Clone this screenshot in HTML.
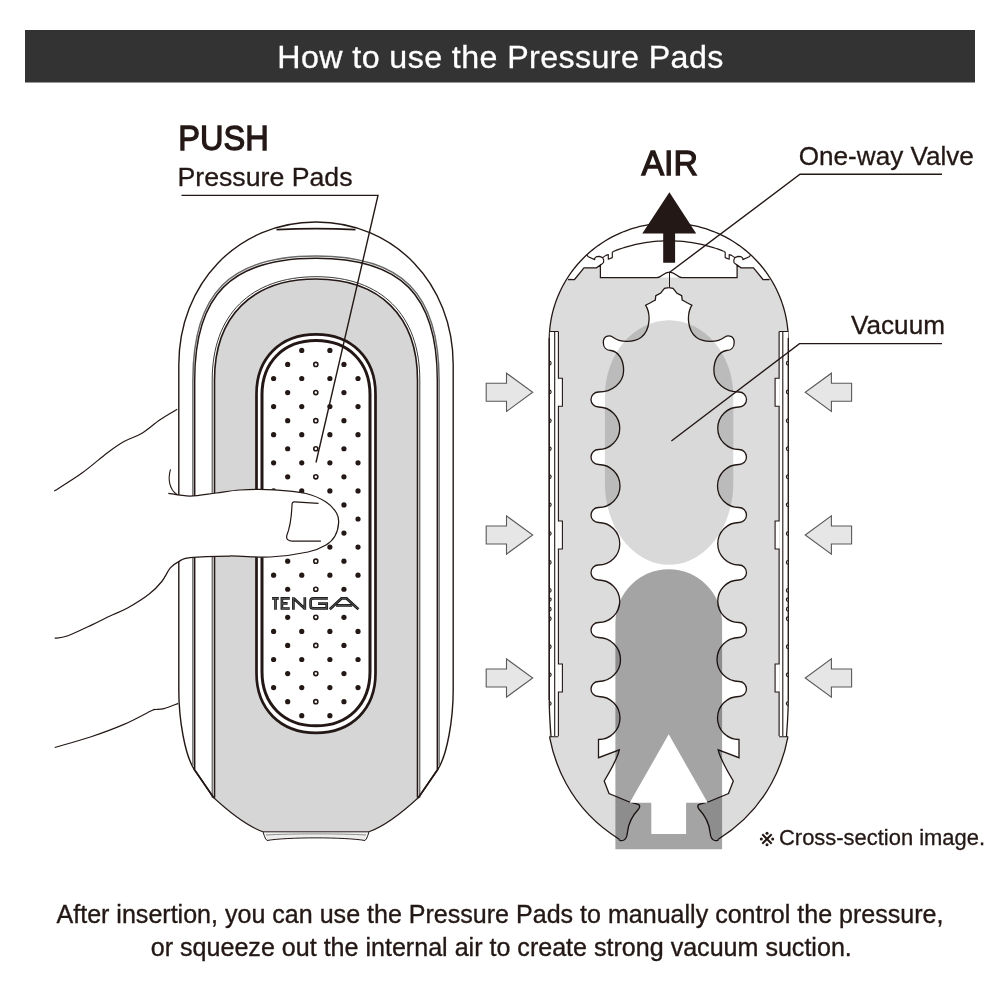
<!DOCTYPE html>
<html><head><meta charset="utf-8"><style>
html,body{margin:0;padding:0;background:#fff;}
body{width:1000px;height:1000px;overflow:hidden;position:relative;}
svg{position:absolute;left:0;top:0;}
text{font-family:"Liberation Sans",sans-serif;}
</style></head><body>
<svg width="1000" height="1000" viewBox="0 0 1000 1000">
<rect x="0" y="0" width="1000" height="1000" fill="#fff"/>
<rect x="25" y="30" width="950" height="52.5" fill="#333333"/>
<text x="500.3" y="67.9" fill="#fff" stroke="#fff" stroke-width="0.3" font-size="32.2" text-anchor="middle" textLength="446" lengthAdjust="spacing">How to use the Pressure Pads</text>
<text x="178.3" y="150.2" fill="#231815" stroke="#231815" stroke-width="1.3" font-size="35.6" textLength="90.5" lengthAdjust="spacingAndGlyphs">PUSH</text>
<text x="177.5" y="186.3" fill="#231815" stroke="#231815" stroke-width="0.3" font-size="26.5" textLength="175" lengthAdjust="spacingAndGlyphs">Pressure Pads</text>
<path d="M178.8 690 L178.8 365 C178.8 283.49 237.8 222 316 222 C394.2 222 453.2 283.49 453.2 365 L453.2 690 C453.2 720 447 755 438 769 L418.5 797.5 L213.5 797.5 L194 769 C185 755 178.8 720 178.8 690 Z" fill="#fff" stroke="#231815" stroke-width="1.4"/>
<path d="M214.5 797.5 L214.5 380 C214.5 316.37 252.06 279 316 279 C379.94 279 417.5 316.37 417.5 380 L417.5 797.5 C405 810 385 826 369 831.8 L263 831.8 C247 826 227 810 214.5 797.5 Z" fill="#d6d6d6" stroke="none"/>
<path d="M214.5 797.5 L214.5 380 C214.5 316.37 252.06 279 316 279 C379.94 279 417.5 316.37 417.5 380 L417.5 797.5" fill="none" stroke="#231815" stroke-width="1.6"/>
<path d="M212.2 797.5 L212.2 380 C212.2 314.92 250.61 276.7 316 276.7 C381.39 276.7 419.8 314.92 419.8 380 L419.8 797.5" fill="none" stroke="#3a3a3a" stroke-width="1.0"/>
<path d="M213.5 797.5 C227 810 247 826 263 831.8 M369 831.8 C385 826 405 810 418.5 797.5" fill="none" stroke="#231815" stroke-width="1.1"/>
<path d="M263 831.8 L369 831.8 C368 835 367 839 365 840.5 C345 837 287 837 267 840.5 C265 839 264 835 263 831.8 Z" fill="#eee" stroke="#231815" stroke-width="1"/>
<path d="M266 835 C290 833.5 342 833.5 366 835" fill="none" stroke="#777" stroke-width="0.8"/>
<path d="M194.7 769 L194.7 380 C194.7 294.74 231.09 258.2 316 258.2 C400.91 258.2 437.3 294.74 437.3 380 L437.3 769" fill="none" stroke="#231815" stroke-width="1.45"/>
<path d="M192.9 766 L192.9 380 C192.9 293.2 229.83 256 316 256 C402.17 256 439.1 293.2 439.1 380 L439.1 766" fill="none" stroke="#6a6a6a" stroke-width="1.5"/>
<path d="M194 769 L213.5 797.5 M438 769 L418.5 797.5" fill="none" stroke="#231815" stroke-width="1.6"/>
<path d="M276.5 229.6 Q316 227.6 355.5 229.6" fill="none" stroke="#231815" stroke-width="1.9"/>
<path d="M256.5 673.3 L256.5 393.9 C256.5 358.2 280.3 334.4 316 334.4 C351.7 334.4 375.5 358.2 375.5 393.9 L375.5 673.3 C375.5 709 351.7 732.8 316 732.8 C280.3 732.8 256.5 709 256.5 673.3 Z" fill="#fff" stroke="#231815" stroke-width="2.7"/>
<path d="M262 671.8 L262 394.6 C262 362.2 283.6 340.6 316 340.6 C348.4 340.6 370 362.2 370 394.6 L370 671.8 C370 704.2 348.4 725.8 316 725.8 C283.6 725.8 262 704.2 262 671.8 Z" fill="none" stroke="#231815" stroke-width="3"/>
<circle cx="301.74" cy="350.4" r="2.6" fill="#231815"/>
<circle cx="329.88" cy="350.4" r="2.6" fill="#231815"/>
<circle cx="287.67" cy="364.45" r="2.6" fill="#231815"/>
<circle cx="315.81" cy="364.45" r="2.05" fill="none" stroke="#231815" stroke-width="1.6"/>
<circle cx="343.95" cy="364.45" r="2.6" fill="#231815"/>
<circle cx="273.6" cy="378.5" r="2.6" fill="#231815"/>
<circle cx="301.74" cy="378.5" r="2.6" fill="#231815"/>
<circle cx="329.88" cy="378.5" r="2.6" fill="#231815"/>
<circle cx="358.02" cy="378.5" r="2.6" fill="#231815"/>
<circle cx="287.67" cy="392.55" r="2.6" fill="#231815"/>
<circle cx="315.81" cy="392.55" r="2.05" fill="none" stroke="#231815" stroke-width="1.6"/>
<circle cx="343.95" cy="392.55" r="2.6" fill="#231815"/>
<circle cx="273.6" cy="406.6" r="2.6" fill="#231815"/>
<circle cx="301.74" cy="406.6" r="2.6" fill="#231815"/>
<circle cx="329.88" cy="406.6" r="2.6" fill="#231815"/>
<circle cx="358.02" cy="406.6" r="2.6" fill="#231815"/>
<circle cx="287.67" cy="420.65" r="2.6" fill="#231815"/>
<circle cx="315.81" cy="420.65" r="2.05" fill="none" stroke="#231815" stroke-width="1.6"/>
<circle cx="343.95" cy="420.65" r="2.6" fill="#231815"/>
<circle cx="273.6" cy="434.7" r="2.6" fill="#231815"/>
<circle cx="301.74" cy="434.7" r="2.6" fill="#231815"/>
<circle cx="329.88" cy="434.7" r="2.6" fill="#231815"/>
<circle cx="358.02" cy="434.7" r="2.6" fill="#231815"/>
<circle cx="287.67" cy="448.75" r="2.6" fill="#231815"/>
<circle cx="315.81" cy="448.75" r="2.05" fill="none" stroke="#231815" stroke-width="1.6"/>
<circle cx="343.95" cy="448.75" r="2.6" fill="#231815"/>
<circle cx="273.6" cy="462.8" r="2.6" fill="#231815"/>
<circle cx="301.74" cy="462.8" r="2.6" fill="#231815"/>
<circle cx="329.88" cy="462.8" r="2.6" fill="#231815"/>
<circle cx="358.02" cy="462.8" r="2.6" fill="#231815"/>
<circle cx="287.67" cy="476.85" r="2.6" fill="#231815"/>
<circle cx="315.81" cy="476.85" r="2.05" fill="none" stroke="#231815" stroke-width="1.6"/>
<circle cx="343.95" cy="476.85" r="2.6" fill="#231815"/>
<circle cx="273.6" cy="490.9" r="2.6" fill="#231815"/>
<circle cx="301.74" cy="490.9" r="2.6" fill="#231815"/>
<circle cx="329.88" cy="490.9" r="2.6" fill="#231815"/>
<circle cx="358.02" cy="490.9" r="2.6" fill="#231815"/>
<circle cx="287.67" cy="504.95" r="2.6" fill="#231815"/>
<circle cx="315.81" cy="504.95" r="2.05" fill="none" stroke="#231815" stroke-width="1.6"/>
<circle cx="343.95" cy="504.95" r="2.6" fill="#231815"/>
<circle cx="273.6" cy="519" r="2.6" fill="#231815"/>
<circle cx="301.74" cy="519" r="2.6" fill="#231815"/>
<circle cx="329.88" cy="519" r="2.6" fill="#231815"/>
<circle cx="358.02" cy="519" r="2.6" fill="#231815"/>
<circle cx="287.67" cy="533.05" r="2.6" fill="#231815"/>
<circle cx="315.81" cy="533.05" r="2.05" fill="none" stroke="#231815" stroke-width="1.6"/>
<circle cx="343.95" cy="533.05" r="2.6" fill="#231815"/>
<circle cx="273.6" cy="547.1" r="2.6" fill="#231815"/>
<circle cx="301.74" cy="547.1" r="2.6" fill="#231815"/>
<circle cx="329.88" cy="547.1" r="2.6" fill="#231815"/>
<circle cx="358.02" cy="547.1" r="2.6" fill="#231815"/>
<circle cx="287.67" cy="561.15" r="2.6" fill="#231815"/>
<circle cx="315.81" cy="561.15" r="2.05" fill="none" stroke="#231815" stroke-width="1.6"/>
<circle cx="343.95" cy="561.15" r="2.6" fill="#231815"/>
<circle cx="273.6" cy="575.2" r="2.6" fill="#231815"/>
<circle cx="301.74" cy="575.2" r="2.6" fill="#231815"/>
<circle cx="329.88" cy="575.2" r="2.6" fill="#231815"/>
<circle cx="358.02" cy="575.2" r="2.6" fill="#231815"/>
<circle cx="287.67" cy="589.25" r="2.6" fill="#231815"/>
<circle cx="315.81" cy="589.25" r="2.05" fill="none" stroke="#231815" stroke-width="1.6"/>
<circle cx="343.95" cy="589.25" r="2.6" fill="#231815"/>
<circle cx="287.67" cy="617.35" r="2.6" fill="#231815"/>
<circle cx="315.81" cy="617.35" r="2.05" fill="none" stroke="#231815" stroke-width="1.6"/>
<circle cx="343.95" cy="617.35" r="2.6" fill="#231815"/>
<circle cx="273.6" cy="631.4" r="2.6" fill="#231815"/>
<circle cx="301.74" cy="631.4" r="2.6" fill="#231815"/>
<circle cx="329.88" cy="631.4" r="2.6" fill="#231815"/>
<circle cx="358.02" cy="631.4" r="2.6" fill="#231815"/>
<circle cx="287.67" cy="645.45" r="2.6" fill="#231815"/>
<circle cx="315.81" cy="645.45" r="2.05" fill="none" stroke="#231815" stroke-width="1.6"/>
<circle cx="343.95" cy="645.45" r="2.6" fill="#231815"/>
<circle cx="273.6" cy="659.5" r="2.6" fill="#231815"/>
<circle cx="301.74" cy="659.5" r="2.6" fill="#231815"/>
<circle cx="329.88" cy="659.5" r="2.6" fill="#231815"/>
<circle cx="358.02" cy="659.5" r="2.6" fill="#231815"/>
<circle cx="287.67" cy="673.55" r="2.6" fill="#231815"/>
<circle cx="315.81" cy="673.55" r="2.05" fill="none" stroke="#231815" stroke-width="1.6"/>
<circle cx="343.95" cy="673.55" r="2.6" fill="#231815"/>
<circle cx="273.6" cy="687.6" r="2.6" fill="#231815"/>
<circle cx="301.74" cy="687.6" r="2.6" fill="#231815"/>
<circle cx="329.88" cy="687.6" r="2.6" fill="#231815"/>
<circle cx="358.02" cy="687.6" r="2.6" fill="#231815"/>
<circle cx="287.67" cy="701.65" r="2.6" fill="#231815"/>
<circle cx="315.81" cy="701.65" r="2.05" fill="none" stroke="#231815" stroke-width="1.6"/>
<circle cx="343.95" cy="701.65" r="2.6" fill="#231815"/>
<circle cx="301.74" cy="715.7" r="2.6" fill="#231815"/>
<circle cx="329.88" cy="715.7" r="2.6" fill="#231815"/>
<path d="M272 598.4 L278.8 598.4 M275.5 598.4 L275.5 609.7" fill="none" stroke="#1a1a1a" stroke-width="2.7" stroke-linejoin="miter" stroke-miterlimit="3"/>
<path d="M289.8 598.4 L281.9 598.4 L281.9 608.5 L289.8 608.5 M281.9 603.4 L287.6 603.4" fill="none" stroke="#1a1a1a" stroke-width="2.7" stroke-linejoin="miter" stroke-miterlimit="3"/>
<path d="M293.4 609.7 L293.4 597.2 M293.6 598.2 L304.6 608.6 M304.8 609.7 L304.8 597.2" fill="none" stroke="#1a1a1a" stroke-width="2.7" stroke-linejoin="miter" stroke-miterlimit="3"/>
<path d="M327.9 598.4 L313.3 598.4 Q310.6 598.4 310.6 601 L310.6 605.9 Q310.6 608.4 313.3 608.4 L326.7 608.4 L326.7 603.6 L318 603.6" fill="none" stroke="#1a1a1a" stroke-width="2.7" stroke-linejoin="miter" stroke-miterlimit="3"/>
<path d="M329.8 609.2 L341.5 598.4 L346.6 598.4 L358.4 609.2 M336 605.3 L352.2 605.3" fill="none" stroke="#1a1a1a" stroke-width="2.7" stroke-linejoin="miter" stroke-miterlimit="3"/>
<path d="M272 598.4 L278.8 598.4 M275.5 598.4 L275.5 609.7" fill="none" stroke="#8a8a8a" stroke-width="0.55" stroke-linejoin="miter" stroke-miterlimit="3"/>
<path d="M289.8 598.4 L281.9 598.4 L281.9 608.5 L289.8 608.5 M281.9 603.4 L287.6 603.4" fill="none" stroke="#8a8a8a" stroke-width="0.55" stroke-linejoin="miter" stroke-miterlimit="3"/>
<path d="M293.4 609.7 L293.4 597.2 M293.6 598.2 L304.6 608.6 M304.8 609.7 L304.8 597.2" fill="none" stroke="#8a8a8a" stroke-width="0.55" stroke-linejoin="miter" stroke-miterlimit="3"/>
<path d="M327.9 598.4 L313.3 598.4 Q310.6 598.4 310.6 601 L310.6 605.9 Q310.6 608.4 313.3 608.4 L326.7 608.4 L326.7 603.6 L318 603.6" fill="none" stroke="#8a8a8a" stroke-width="0.55" stroke-linejoin="miter" stroke-miterlimit="3"/>
<path d="M329.8 609.2 L341.5 598.4 L346.6 598.4 L358.4 609.2 M336 605.3 L352.2 605.3" fill="none" stroke="#8a8a8a" stroke-width="0.55" stroke-linejoin="miter" stroke-miterlimit="3"/>
<path d="M168.3 493.3 C171.92 493.75 182.05 496.05 190 496 C197.95 495.95 207.67 494 216 493 C224.33 492 230.33 490.53 240 490 C249.67 489.47 263 489.22 274 489.8 C285 490.38 297.33 491.47 306 493.5 C314.67 495.53 320.92 498.75 326 502 C331.08 505.25 334.4 509.5 336.5 513 C338.6 516.5 338.85 519.17 338.6 523 C338.35 526.83 337.1 532.33 335 536 C332.9 539.67 330.5 542.33 326 545 C321.5 547.67 317.33 550 308 552 C298.67 554 283 556.33 270 557 C257 557.67 243.33 555.9 230 556 C216.67 556.1 198.55 556.67 190 557.6 C181.45 558.53 181.98 559.88 178.7 561.6 C175.42 563.32 173.12 564.58 170.3 567.9 C167.48 571.22 165.32 577.13 161.8 581.5 C158.28 585.87 154.83 589.72 149.2 594.1 C143.57 598.48 134.53 604.15 128 607.8 C121.47 611.45 115.92 613.2 110 616 C104.08 618.8 99.62 621.27 92.5 624.6 C85.38 627.93 73.6 633.73 67.3 636 C61 638.27 56.8 637.83 54.7 638.2 L168.3 493.3 Z" fill="#fff" stroke="none"/>
<path d="M168.3 493.3 C171.92 493.75 182.05 496.05 190 496 C197.95 495.95 207.67 494 216 493 C224.33 492 230.33 490.53 240 490 C249.67 489.47 263 489.22 274 489.8 C285 490.38 297.33 491.47 306 493.5 C314.67 495.53 320.92 498.75 326 502 C331.08 505.25 334.4 509.5 336.5 513 C338.6 516.5 338.85 519.17 338.6 523 C338.35 526.83 337.1 532.33 335 536 C332.9 539.67 330.5 542.33 326 545 C321.5 547.67 317.33 550 308 552 C298.67 554 283 556.33 270 557 C257 557.67 243.33 555.9 230 556 C216.67 556.1 198.55 556.67 190 557.6 C181.45 558.53 181.98 559.88 178.7 561.6 C175.42 563.32 173.12 564.58 170.3 567.9 C167.48 571.22 165.32 577.13 161.8 581.5 C158.28 585.87 154.83 589.72 149.2 594.1 C143.57 598.48 134.53 604.15 128 607.8 C121.47 611.45 115.92 613.2 110 616 C104.08 618.8 99.62 621.27 92.5 624.6 C85.38 627.93 73.6 633.73 67.3 636 C61 638.27 56.8 637.83 54.7 638.2" fill="none" stroke="#231815" stroke-width="1.25"/>
<path d="M170.5 469.3 C168 478 168.5 489 177.3 494.8" fill="none" stroke="#231815" stroke-width="1.1"/>
<path d="M318.5 503.4 L294.5 501.9 C292.6 501.8 292.1 503 292 505 C291.6 515 290.2 527 286.8 535.5 C286 539 288 541.2 292.5 541.2 L320.9 541.2" fill="none" stroke="#231815" stroke-width="1.2"/>
<path d="M54.25 491 C58.88 488 73.12 479.38 82 473 C90.88 466.62 100.5 457.95 107.5 452.7 C114.5 447.45 118.25 444.75 124 441.5 C129.75 438.25 136 436.82 142 433.2 C148 429.57 154.12 423.74 160 419.75 C165.88 415.76 174.38 411 177.25 409.25" fill="none" stroke="#231815" stroke-width="1.2"/>
<path d="M54.7 747.5 C60.65 745.75 78.85 740.85 90.4 737 C101.95 733.15 113.85 728.78 124 724.4 C134.15 720.02 146.13 713.18 151.3 710.7 C156.47 708.22 152.88 709.85 155 709.5 C157.12 709.15 160.13 709.62 164 708.6 C167.87 707.58 175.83 704.27 178.2 703.4" fill="none" stroke="#231815" stroke-width="1.2"/>
<path d="M486.2 383.3 L506.5 383.3 L506.5 373.2 L532.7 392.3 L506.5 411.4 L506.5 401.3 L486.2 401.3 Z" fill="#e6e6e6" stroke="#5a5a5a" stroke-width="1.1"/>
<path d="M851.6 383.3 L831.4 383.3 L831.4 373.2 L805.2 392.3 L831.4 411.4 L831.4 401.3 L851.6 401.3 Z" fill="#e6e6e6" stroke="#5a5a5a" stroke-width="1.1"/>
<path d="M486.2 526 L506.5 526 L506.5 515.9 L532.7 535 L506.5 554.1 L506.5 544 L486.2 544 Z" fill="#e6e6e6" stroke="#5a5a5a" stroke-width="1.1"/>
<path d="M851.6 526 L831.4 526 L831.4 515.9 L805.2 535 L831.4 554.1 L831.4 544 L851.6 544 Z" fill="#e6e6e6" stroke="#5a5a5a" stroke-width="1.1"/>
<path d="M486.2 669 L506.5 669 L506.5 658.9 L532.7 678 L506.5 697.1 L506.5 687 L486.2 687 Z" fill="#e6e6e6" stroke="#5a5a5a" stroke-width="1.1"/>
<path d="M851.6 669 L831.4 669 L831.4 658.9 L805.2 678 L831.4 697.1 L831.4 687 L851.6 687 Z" fill="#e6e6e6" stroke="#5a5a5a" stroke-width="1.1"/>
<path d="M549.25 736 L549.25 340 L550.81 321.14 L552.38 313.42 L553.94 307.55 L555.5 302.66 L557.06 298.39 L558.62 294.57 L560.19 291.1 L561.75 287.9 L563.31 284.93 L564.88 282.16 L566.44 279.55 L568 277.08 L574.5 279.5 L584 267.8 L596.5 267.8 L600.4 265 L600.4 277.6 L737.1 277.6 L737.1 265 L741 267.8 L753.5 267.8 L763 279.5 L769.5 277.08 L771.06 279.55 L772.62 282.16 L774.19 284.93 L775.75 287.9 L777.31 291.1 L778.88 294.57 L780.44 298.39 L782 302.66 L783.56 307.55 L785.12 313.42 L786.69 321.14 L788.25 340 L787.9 737.2 C784.3 756.2 771.4 806.5 718.3 839.2 L619.2 839.2 C566.1 806.5 553.2 756.2 549.6 737.2 L549.25 737.2 Z" fill="#dcdcdc" stroke="none"/>
<path d="M587.2 254.48 L587.2 254.48 L591.28 250.92 L595.36 247.67 L599.43 244.7 L603.51 241.97 L607.59 239.49 L611.67 237.21 L615.74 235.14 L619.82 233.26 L623.9 231.55 L627.98 230.02 L632.05 228.65 L636.13 227.44 L640.21 226.39 L644.28 225.48 L648.36 224.72 L652.44 224.09 L656.52 223.61 L660.6 223.27 L664.67 223.07 L668.75 223 L672.83 223.07 L676.9 223.27 L680.98 223.61 L685.06 224.09 L689.14 224.72 L693.22 225.48 L697.29 226.39 L701.37 227.44 L705.45 228.65 L709.52 230.02 L713.6 231.55 L717.68 233.26 L721.76 235.14 L725.84 237.21 L729.91 239.49 L733.99 241.97 L738.07 244.7 L742.14 247.67 L746.22 250.92 L750.3 254.48 L748.5 258 L733.9 255.76 L730.64 254.23 L727.38 252.8 L724.13 251.45 L720.87 250.19 L717.61 249.02 L714.36 247.94 L711.1 246.93 L707.84 246.01 L704.58 245.16 L701.33 244.4 L698.07 243.71 L694.81 243.09 L691.55 242.55 L688.29 242.08 L685.04 241.69 L681.78 241.37 L678.52 241.12 L675.26 240.94 L672.01 240.84 L668.75 240.8 L665.49 240.84 L662.24 240.94 L658.98 241.12 L655.72 241.37 L652.46 241.69 L649.21 242.08 L645.95 242.55 L642.69 243.09 L639.43 243.71 L636.17 244.4 L632.92 245.16 L629.66 246.01 L626.4 246.93 L623.14 247.94 L619.89 249.02 L616.63 250.19 L613.37 251.45 L610.12 252.8 L606.86 254.23 L603.6 255.76 L589 258 Z" fill="#fff" stroke="none"/>
<path d="M549.25 700 L549.25 340 L549.32 335.92 L549.54 331.84 L549.9 327.77 L550.41 323.72 L551.07 319.68 L551.86 315.67 L552.8 311.7 L553.88 307.75 L555.1 303.85 L556.46 299.98 L557.95 296.17 L559.58 292.41 L561.34 288.71 L563.24 285.07 L565.26 281.5 L567.41 278 L569.68 274.57 L572.07 271.23 L574.58 267.97 L577.21 264.79 L579.94 261.71 L582.79 258.72 L585.74 255.84 L588.79 253.05 L591.94 250.37 L595.18 247.8 L598.51 245.35 L601.93 243 L605.42 240.78 L609 238.68 L612.65 236.7 L616.36 234.84 L620.14 233.12 L623.98 231.52 L627.88 230.06 L631.82 228.73 L635.81 227.53 L639.84 226.48 L643.9 225.56 L648 224.78 L652.12 224.14 L656.26 223.64 L660.41 223.29 L664.58 223.07 L668.75 223 L672.92 223.07 L677.09 223.29 L681.24 223.64 L685.38 224.14 L689.5 224.78 L693.6 225.56 L697.66 226.48 L701.69 227.53 L705.68 228.73 L709.62 230.06 L713.52 231.52 L717.36 233.12 L721.14 234.84 L724.85 236.7 L728.5 238.68 L732.08 240.78 L735.57 243 L738.99 245.35 L742.32 247.8 L745.56 250.37 L748.71 253.05 L751.76 255.84 L754.71 258.72 L757.56 261.71 L760.29 264.79 L762.92 267.97 L765.43 271.23 L767.82 274.57 L770.09 278 L772.24 281.5 L774.26 285.07 L776.16 288.71 L777.92 292.41 L779.55 296.17 L781.04 299.98 L782.4 303.85 L783.62 307.75 L784.7 311.7 L785.64 315.67 L786.43 319.68 L787.09 323.72 L787.6 327.77 L787.96 331.84 L788.18 335.92 L788.25 340 L788.25 700" fill="none" stroke="#231815" stroke-width="1.3"/>
<path d="M613.9 251.24 L616.64 250.19 L619.38 249.2 L622.13 248.27 L624.87 247.39 L627.61 246.58 L630.36 245.82 L633.1 245.12 L635.84 244.47 L638.58 243.88 L641.33 243.34 L644.07 242.85 L646.81 242.42 L649.55 242.04 L652.29 241.71 L655.04 241.43 L657.78 241.2 L660.52 241.03 L663.26 240.9 L666.01 240.83 L668.75 240.8 L671.49 240.83 L674.24 240.9 L676.98 241.03 L679.72 241.2 L682.46 241.43 L685.21 241.71 L687.95 242.04 L690.69 242.42 L693.43 242.85 L696.17 243.34 L698.92 243.88 L701.66 244.47 L704.4 245.12 L707.14 245.82 L709.89 246.58 L712.63 247.39 L715.37 248.27 L718.12 249.2 L720.86 250.19 L723.6 251.24" fill="none" stroke="#231815" stroke-width="1.25"/>
<path d="M723.6 251.24 L725.2 252.2 L725.2 257.6 L729.2 259.2 L729.2 254.6 L731.6 255.4 L734.8 257.6 L738 256.4 L741 256.6 L742.8 258.2 L742.8 259.6 L749.2 256.8 L750.5 255.2" fill="none" stroke="#231815" stroke-width="1.15" stroke-linejoin="round"/>
<path d="M613.9 251.24 L612.3 252.2 L612.3 257.6 L608.3 259.2 L608.3 254.6 L605.9 255.4 L602.7 257.6 L599.5 256.4 L596.5 256.6 L594.7 258.2 L594.7 259.6 L588.3 256.8 L587 255.2" fill="none" stroke="#231815" stroke-width="1.15" stroke-linejoin="round"/>
<path d="M734.8 257.6 L733.8 260 L734 262.6 L737.1 265.2" fill="none" stroke="#231815" stroke-width="1.15" stroke-linejoin="round"/>
<path d="M602.7 257.6 L603.7 260 L603.5 262.6 L600.4 265.2" fill="none" stroke="#231815" stroke-width="1.15" stroke-linejoin="round"/>
<path d="M568 279.5 L574.5 279.5 L584 267.8 L596.5 267.8 L600.4 265 L600.4 277.6 L657 277.6 C662 277.6 663.5 272 669.5 272 C675.5 272 677 277.6 682 277.6 L737.1 277.6 L737.1 265 L741 267.8 L753.5 267.8 L763 279.5 L769.5 279.5" fill="none" stroke="#231815" stroke-width="1.25"/>
<path d="M669.5 272 L669.5 288" fill="none" stroke="#231815" stroke-width="1"/>
<rect x="549.85" y="331.5" width="8.55" height="404.5" fill="#fff"/>
<path d="M549.25 338 L549.25 700 C549.25 715 550.45 728 551.05 737" fill="none" stroke="#231815" stroke-width="1.3"/>
<rect x="558.4" y="378.3" width="4" height="28" fill="#fff"/>
<rect x="558.4" y="521" width="4" height="28" fill="#fff"/>
<rect x="558.4" y="664" width="4" height="28" fill="#fff"/>
<path d="M558.4 331.5 L558.4 378.3 L562.4 378.3 L562.4 406.3 L558.4 406.3 L558.4 521 L562.4 521 L562.4 549 L558.4 549 L558.4 664 L562.4 664 L562.4 692 L558.4 692 L558.4 736" fill="none" stroke="#231815" stroke-width="1.1"/>
<path d="M554.7 331.5 L554.7 736 M549.25 331.5 L558.4 331.5 M549.25 736.8 L558.4 736.8" fill="none" stroke="#231815" stroke-width="1.1"/>
<path d="M549.25 361.3 A1.9 1.9 0 0 1 549.25 365.1" fill="none" stroke="#231815" stroke-width="1.1"/>
<path d="M549.25 390.1 A1.9 1.9 0 0 1 549.25 393.9" fill="none" stroke="#231815" stroke-width="1.1"/>
<path d="M549.25 418.9 A1.9 1.9 0 0 1 549.25 422.7" fill="none" stroke="#231815" stroke-width="1.1"/>
<path d="M549.25 446.9 A1.9 1.9 0 0 1 549.25 450.7" fill="none" stroke="#231815" stroke-width="1.1"/>
<path d="M549.25 474.9 A1.9 1.9 0 0 1 549.25 478.7" fill="none" stroke="#231815" stroke-width="1.1"/>
<path d="M549.25 502.9 A1.9 1.9 0 0 1 549.25 506.7" fill="none" stroke="#231815" stroke-width="1.1"/>
<path d="M549.25 531.7 A1.9 1.9 0 0 1 549.25 535.5" fill="none" stroke="#231815" stroke-width="1.1"/>
<path d="M549.25 560.5 A1.9 1.9 0 0 1 549.25 564.3" fill="none" stroke="#231815" stroke-width="1.1"/>
<path d="M549.25 588.5 A1.9 1.9 0 0 1 549.25 592.3" fill="none" stroke="#231815" stroke-width="1.1"/>
<path d="M549.25 597.7 A1.9 1.9 0 0 1 549.25 601.5" fill="none" stroke="#231815" stroke-width="1.1"/>
<path d="M549.25 607.3 A1.9 1.9 0 0 1 549.25 611.1" fill="none" stroke="#231815" stroke-width="1.1"/>
<path d="M549.25 616.9 A1.9 1.9 0 0 1 549.25 620.7" fill="none" stroke="#231815" stroke-width="1.1"/>
<path d="M549.25 644.9 A1.9 1.9 0 0 1 549.25 648.7" fill="none" stroke="#231815" stroke-width="1.1"/>
<path d="M549.25 672.9 A1.9 1.9 0 0 1 549.25 676.7" fill="none" stroke="#231815" stroke-width="1.1"/>
<path d="M549.25 701.7 A1.9 1.9 0 0 1 549.25 705.5" fill="none" stroke="#231815" stroke-width="1.1"/>
<rect x="779.7" y="331.5" width="8.55" height="404.5" fill="#fff"/>
<path d="M788.25 338 L788.25 700 C788.25 715 787.05 728 786.45 737" fill="none" stroke="#231815" stroke-width="1.3"/>
<rect x="775.1" y="378.3" width="4" height="28" fill="#fff"/>
<rect x="775.1" y="521" width="4" height="28" fill="#fff"/>
<rect x="775.1" y="664" width="4" height="28" fill="#fff"/>
<path d="M779.1 331.5 L779.1 378.3 L775.1 378.3 L775.1 406.3 L779.1 406.3 L779.1 521 L775.1 521 L775.1 549 L779.1 549 L779.1 664 L775.1 664 L775.1 692 L779.1 692 L779.1 736" fill="none" stroke="#231815" stroke-width="1.1"/>
<path d="M782.8 331.5 L782.8 736 M788.25 331.5 L779.1 331.5 M788.25 736.8 L779.1 736.8" fill="none" stroke="#231815" stroke-width="1.1"/>
<path d="M788.25 361.3 A1.9 1.9 0 0 0 788.25 365.1" fill="none" stroke="#231815" stroke-width="1.1"/>
<path d="M788.25 390.1 A1.9 1.9 0 0 0 788.25 393.9" fill="none" stroke="#231815" stroke-width="1.1"/>
<path d="M788.25 418.9 A1.9 1.9 0 0 0 788.25 422.7" fill="none" stroke="#231815" stroke-width="1.1"/>
<path d="M788.25 446.9 A1.9 1.9 0 0 0 788.25 450.7" fill="none" stroke="#231815" stroke-width="1.1"/>
<path d="M788.25 474.9 A1.9 1.9 0 0 0 788.25 478.7" fill="none" stroke="#231815" stroke-width="1.1"/>
<path d="M788.25 502.9 A1.9 1.9 0 0 0 788.25 506.7" fill="none" stroke="#231815" stroke-width="1.1"/>
<path d="M788.25 531.7 A1.9 1.9 0 0 0 788.25 535.5" fill="none" stroke="#231815" stroke-width="1.1"/>
<path d="M788.25 560.5 A1.9 1.9 0 0 0 788.25 564.3" fill="none" stroke="#231815" stroke-width="1.1"/>
<path d="M788.25 588.5 A1.9 1.9 0 0 0 788.25 592.3" fill="none" stroke="#231815" stroke-width="1.1"/>
<path d="M788.25 597.7 A1.9 1.9 0 0 0 788.25 601.5" fill="none" stroke="#231815" stroke-width="1.1"/>
<path d="M788.25 607.3 A1.9 1.9 0 0 0 788.25 611.1" fill="none" stroke="#231815" stroke-width="1.1"/>
<path d="M788.25 616.9 A1.9 1.9 0 0 0 788.25 620.7" fill="none" stroke="#231815" stroke-width="1.1"/>
<path d="M788.25 644.9 A1.9 1.9 0 0 0 788.25 648.7" fill="none" stroke="#231815" stroke-width="1.1"/>
<path d="M788.25 672.9 A1.9 1.9 0 0 0 788.25 676.7" fill="none" stroke="#231815" stroke-width="1.1"/>
<path d="M788.25 701.7 A1.9 1.9 0 0 0 788.25 705.5" fill="none" stroke="#231815" stroke-width="1.1"/>
<g id="cav">
</g>
<path id="cavL" d="M668.75 287.6 L664.5 288.3 L662 291.3 L660.8 293 L658.3 294.4 L655.8 295.6 L655.3 300 L653.5 301 L650 303 L645.6 305.2 C651 314 650.5 330 641 337.5 C633 343 620 342.5 613 337.2 C609 334.6 603.3 336 603.3 342.5 C603.3 348 607 350.5 611 350.5 C619 352 623.6 360 623.6 370.5 C623.6 383 612 392 598.5 392 A7.5 7.5 0 0 0 598.5 407 A21.25 21.25 0 0 1 598.5 449.5 A7.5 7.5 0 0 0 598.5 464.5 A21.5 21.5 0 0 1 598.5 507.5 A7.5 7.5 0 0 0 598.5 522.5 A21.25 21.25 0 0 1 598.5 565 A7.5 7.5 0 0 0 598.5 580 A21.25 21.25 0 0 1 598.5 622.5 A7.5 7.5 0 0 0 598.5 637.5 A22 22 0 0 1 598.5 681.5 A7.5 7.5 0 0 0 598.5 696.5 A21.5 21.5 0 0 1 598.5 739.5 L598.5 757.7 L619.3 749.9 C617.5 758 612 768 604.2 781 L609 793.6 L629.4 802 L638.3 804.3 C640.3 805.3 640 807.2 638.6 809 C633 815 628.5 822 627.5 832 C627 838 624.5 840.6 621.8 840.6 C620.2 840.6 619.2 840 619.2 839.2 L668.75 845 L670 845 L670 287.6 Z" fill="#fff" stroke="none"/>
<path d="M668.75 287.6 L664.5 288.3 L662 291.3 L660.8 293 L658.3 294.4 L655.8 295.6 L655.3 300 L653.5 301 L650 303 L645.6 305.2 C651 314 650.5 330 641 337.5 C633 343 620 342.5 613 337.2 C609 334.6 603.3 336 603.3 342.5 C603.3 348 607 350.5 611 350.5 C619 352 623.6 360 623.6 370.5 C623.6 383 612 392 598.5 392 A7.5 7.5 0 0 0 598.5 407 A21.25 21.25 0 0 1 598.5 449.5 A7.5 7.5 0 0 0 598.5 464.5 A21.5 21.5 0 0 1 598.5 507.5 A7.5 7.5 0 0 0 598.5 522.5 A21.25 21.25 0 0 1 598.5 565 A7.5 7.5 0 0 0 598.5 580 A21.25 21.25 0 0 1 598.5 622.5 A7.5 7.5 0 0 0 598.5 637.5 A22 22 0 0 1 598.5 681.5 A7.5 7.5 0 0 0 598.5 696.5 A21.5 21.5 0 0 1 598.5 739.5 L598.5 757.7 L619.3 749.9 C617.5 758 612 768 604.2 781 L609 793.6 L629.4 802 L638.3 804.3 C640.3 805.3 640 807.2 638.6 809 C633 815 628.5 822 627.5 832 C627 838 624.5 840.6 621.8 840.6 C620.2 840.6 619.2 840 619.2 839.2 L668.75 845 L670 845 L670 287.6 Z" fill="#fff" stroke="none" transform="translate(1337.5 0) scale(-1 1)"/>
<path d="M668.75 287.6 L664.5 288.3 L662 291.3 L660.8 293 L658.3 294.4 L655.8 295.6 L655.3 300 L653.5 301 L650 303 L645.6 305.2 C651 314 650.5 330 641 337.5 C633 343 620 342.5 613 337.2 C609 334.6 603.3 336 603.3 342.5 C603.3 348 607 350.5 611 350.5 C619 352 623.6 360 623.6 370.5 C623.6 383 612 392 598.5 392 A7.5 7.5 0 0 0 598.5 407 A21.25 21.25 0 0 1 598.5 449.5 A7.5 7.5 0 0 0 598.5 464.5 A21.5 21.5 0 0 1 598.5 507.5 A7.5 7.5 0 0 0 598.5 522.5 A21.25 21.25 0 0 1 598.5 565 A7.5 7.5 0 0 0 598.5 580 A21.25 21.25 0 0 1 598.5 622.5 A7.5 7.5 0 0 0 598.5 637.5 A22 22 0 0 1 598.5 681.5 A7.5 7.5 0 0 0 598.5 696.5 A21.5 21.5 0 0 1 598.5 739.5 L598.5 757.7 L619.3 749.9 C617.5 758 612 768 604.2 781 L609 793.6 L629.4 802 L638.3 804.3 C640.3 805.3 640 807.2 638.6 809 C633 815 628.5 822 627.5 832 C627 838 624.5 840.6 621.8 840.6 C620.2 840.6 619.2 840 619.2 839.2" fill="none" stroke="#231815" stroke-width="1.3"/>
<path d="M668.75 287.6 L664.5 288.3 L662 291.3 L660.8 293 L658.3 294.4 L655.8 295.6 L655.3 300 L653.5 301 L650 303 L645.6 305.2 C651 314 650.5 330 641 337.5 C633 343 620 342.5 613 337.2 C609 334.6 603.3 336 603.3 342.5 C603.3 348 607 350.5 611 350.5 C619 352 623.6 360 623.6 370.5 C623.6 383 612 392 598.5 392 A7.5 7.5 0 0 0 598.5 407 A21.25 21.25 0 0 1 598.5 449.5 A7.5 7.5 0 0 0 598.5 464.5 A21.5 21.5 0 0 1 598.5 507.5 A7.5 7.5 0 0 0 598.5 522.5 A21.25 21.25 0 0 1 598.5 565 A7.5 7.5 0 0 0 598.5 580 A21.25 21.25 0 0 1 598.5 622.5 A7.5 7.5 0 0 0 598.5 637.5 A22 22 0 0 1 598.5 681.5 A7.5 7.5 0 0 0 598.5 696.5 A21.5 21.5 0 0 1 598.5 739.5 L598.5 757.7 L619.3 749.9 C617.5 758 612 768 604.2 781 L609 793.6 L629.4 802 L638.3 804.3 C640.3 805.3 640 807.2 638.6 809 C633 815 628.5 822 627.5 832 C627 838 624.5 840.6 621.8 840.6 C620.2 840.6 619.2 840 619.2 839.2" fill="none" stroke="#231815" stroke-width="1.3" transform="translate(1337.5 0) scale(-1 1)"/>
<path d="M549.6 737.2 C553.2 756.2 566.1 806.5 619.2 839.2 M787.9 737.2 C784.3 756.2 771.4 806.5 718.3 839.2" fill="none" stroke="#231815" stroke-width="1.3"/>
<path d="M604.9 396 C604.9 354.14 633.64 320.2 669.1 320.2 C704.56 320.2 733.3 354.14 733.3 396 L733.3 483 C733.3 528.18 704.56 564.8 669.1 564.8 C633.64 564.8 604.9 528.18 604.9 483 Z" fill="#d9d9d9" style="mix-blend-mode:multiply"/>
<path d="M615.4 849.2 L615.4 622.6 A53.35 53.35 0 0 1 722.1 622.6 L722.1 849.2 Z" fill="#a4a4a4" style="mix-blend-mode:multiply"/>
<path d="M668.7 734.3 L707.7 802.7 L686.1 802.7 L686.1 833.9 L651.3 833.9 L651.3 802.7 L629.7 802.7 Z" fill="#fff"/>
<path d="M181.5 195.4 L378 195.4 L316 462.5" fill="none" stroke="#231815" stroke-width="1.4"/>
<path d="M669.4 192.2 L696.2 233.6 L675.1 233.6 L675.1 262.8 L663.2 262.8 L663.2 233.6 L642.3 233.6 Z" fill="#231815"/>
<text x="641.4" y="175.2" fill="#231815" stroke="#231815" stroke-width="1.3" font-size="35.4" textLength="56.5" lengthAdjust="spacingAndGlyphs">AIR</text>
<text x="798.8" y="164.8" fill="#231815" stroke="#231815" stroke-width="0.3" font-size="26" textLength="175" lengthAdjust="spacingAndGlyphs">One-way Valve</text>
<path d="M942 174.3 L800 174.3 L670 272" fill="none" stroke="#231815" stroke-width="1.4"/>
<text x="851" y="333.6" fill="#231815" stroke="#231815" stroke-width="0.3" font-size="26" textLength="94" lengthAdjust="spacingAndGlyphs">Vacuum</text>
<path d="M942 343.6 L799.5 343.6 L671.4 441" fill="none" stroke="#231815" stroke-width="1.4"/>
<g stroke="#231815" stroke-width="2" fill="none"><path d="M762.3 834.3 L771.7 843.7 M771.7 834.3 L762.3 843.7"/></g>
<g fill="#231815"><circle cx="767" cy="833.3" r="1.5"/><circle cx="767" cy="844.7" r="1.5"/><circle cx="761.3" cy="839" r="1.5"/><circle cx="772.7" cy="839" r="1.5"/></g>
<text x="779" y="845" fill="#231815" stroke="#231815" stroke-width="0.3" font-size="21.8" textLength="206" lengthAdjust="spacingAndGlyphs">Cross-section image.</text>
<text x="500" y="922.8" fill="#231815" stroke="#231815" stroke-width="0.35" font-size="25" text-anchor="middle" textLength="887" lengthAdjust="spacingAndGlyphs">After insertion, you can use the Pressure Pads to manually control the pressure,</text>
<text x="501.3" y="955.8" fill="#231815" stroke="#231815" stroke-width="0.35" font-size="25" text-anchor="middle" textLength="701" lengthAdjust="spacingAndGlyphs">or squeeze out the internal air to create strong vacuum suction.</text>
</svg>
</body></html>
